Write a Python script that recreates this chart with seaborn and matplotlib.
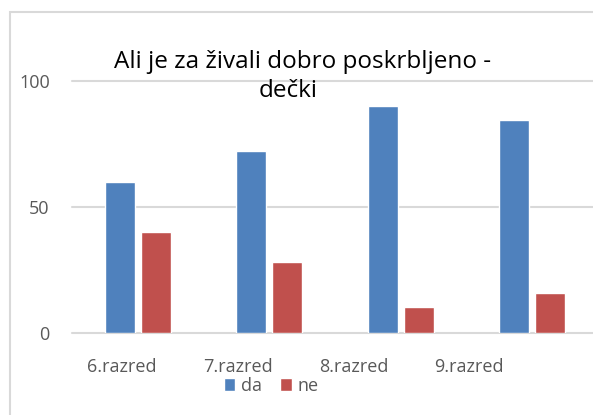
import matplotlib
matplotlib.use("Agg")
import matplotlib.pyplot as plt
from matplotlib.patches import Rectangle
import pandas as pd
import seaborn as sns

razredi = ['6.razred', '7.razred', '8.razred', '9.razred']
da = [60, 72, 90, 84.4]
ne = [40, 28, 10, 15.6]
odgovori = ['da', 'ne']
barve = ['#4F81BD', '#C0504D']

df = pd.DataFrame({
    'razred': razredi * 2,
    'delez': da + ne,
    'odgovor': ['da'] * 4 + ['ne'] * 4,
})

sns.set_style('white')
plt.rcParams['font.family'] = ['Open Sans', 'DejaVu Sans']

W, H = 593, 415
fig = plt.figure(figsize=(W / 100, H / 100), dpi=100)
ax = fig.add_axes([72 / W, 1 - 332.5 / H, 526 / W, (332.5 - 80.9) / H])

sns.barplot(data=df, x='razred', y='delez', hue='odgovor', hue_order=odgovori,
            palette=barve, saturation=1, width=0.55, gap=0.17, ax=ax)

ax.set_xlim(-0.5, 3.5)
ax.set_ylim(0, 100)
ax.set_yticks([0, 50, 100])
ax.set_xticks([i * 0.88 - 0.12 for i in range(len(razredi))], razredi)
ax.set_xlabel('')
ax.set_ylabel('')
ax.set_axisbelow(True)
ax.grid(axis='y', color='#D9D9D9', linewidth=1.5)
for line in ax.get_ygridlines():
    line.set_clip_on(False)
for s in ax.spines.values():
    s.set_visible(False)
ax.tick_params(axis='both', length=0, labelsize=13, labelcolor='#595959')
ax.tick_params(axis='y', pad=16)
ax.tick_params(axis='x', pad=18)

ax.legend(ncol=2, loc='center', bbox_to_anchor=(271 / W, 1 - 386 / H),
          bbox_transform=fig.transFigure, frameon=False, fontsize=13,
          labelcolor='#595959', handlelength=0.65, handleheight=0.75,
          handletextpad=0.3, columnspacing=1.0, borderpad=0)

# naslov v dveh vrsticah
fig.text(303 / W, 1 - 68 / H, 'Ali je za živali dobro poskrbljeno -',
         ha='center', va='baseline', fontsize=17.5, color='black')
fig.text(288 / W, 1 - 97 / H, 'dečki',
         ha='center', va='baseline', fontsize=17.5, color='black')

# okvir grafa
fig.patches.append(Rectangle((10 / W, -0.1), 1.2, (H - 12) / H + 0.1,
                             transform=fig.transFigure, fill=False,
                             edgecolor='#D9D9D9', linewidth=1.5))

fig.savefig('out.png', dpi=100)
